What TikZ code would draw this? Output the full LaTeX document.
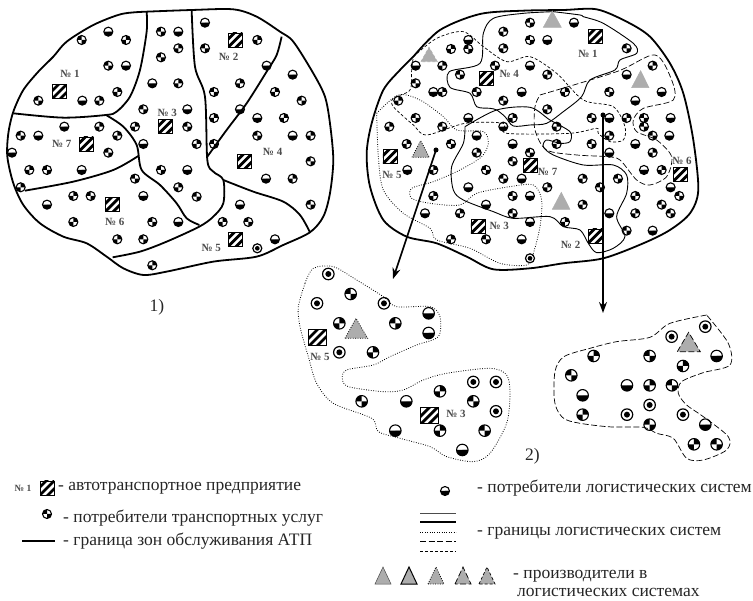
\documentclass[tikz,border=0pt]{standalone}
\usepackage{fontspec}
\usetikzlibrary{arrows.meta}
\setmainfont{Liberation Serif}
\tikzset{
  cons/.style={circle, draw, line width=1.1pt, minimum size=9pt, inner sep=0pt, path picture={
    \fill (path picture bounding box.center) -- ++(#1:8pt) arc[start angle=#1, delta angle={(#1==180?180:90)}, radius=8pt] -- cycle;
    \fill (path picture bounding box.center) -- ++(#1+180:8pt) arc[start angle=#1+180, delta angle={(#1==180?0:90)}, radius=8pt] -- cycle;}},
  consbig/.style={cons=#1, minimum size=11.5pt},
  consdot/.style={circle, draw, line width=1.2pt, minimum size=#1, inner sep=0pt, path picture={
    \fill (path picture bounding box.center) circle[radius=0.26*#1];}},
  atpbox/.style={rectangle, draw, line width=0.7pt, inner sep=0pt, minimum width=14pt, minimum height=14pt, path picture={
    \foreach \a/\b in {-18/2,-10/10,-2/18}
      \draw[line width=2.8pt] (path picture bounding box.center) +(\a pt,-10pt) -- +(\b pt,10pt);}},
  numlabel/.style={font=\bfseries\fontsize{11}{13}\selectfont, text=black!70, inner sep=0pt},
  legend/.style={anchor=west, font=\fontsize{17.5}{20}\selectfont, text=black!85, inner sep=0pt},
  zoneline/.style={line width=1.8pt, line join=round},
  solidline/.style={line width=0.9pt, line join=round},
  dotline/.style={line width=0.8pt, dash pattern=on 0.8pt off 1.6pt},
  longdash/.style={line width=0.7pt, dash pattern=on 6pt off 2.5pt},
  shortdash/.style={line width=0.7pt, dash pattern=on 3pt off 2pt},
  prod/.style={fill=black!32, draw=black!32, line width=0.5pt},
  flowarrow/.style={-{Stealth[length=11pt, width=8pt]}, line width=1.7pt},
}
\begin{document}
\begin{tikzpicture}[x=1pt, y=-1pt]
  \useasboundingbox (0,0) rectangle (753,601);

  \begin{scope}[x=0.3333pt, y=-0.3333pt]
    \draw[zoneline] plot[smooth] coordinates {(440,35) (575,30) (700,28) (770,50) (840,95) (880,125) (940,220) (975,290) (990,370) (1000,480) (990,580) (970,650) (930,697) (850,735) (770,770) (640,785) (500,815) (430,825) (370,805) (320,770) (260,730) (190,710) (120,670) (70,615) (40,550) (22,470) (25,400) (40,335) (70,270) (115,215) (160,170) (200,125) (280,75) (365,42) (440,35)};
    \draw[zoneline] plot[smooth] coordinates {(440,35) (440,95) (420,210) (390,290) (350,335) (318,345) (190,353) (40,340)};
    \draw[zoneline] plot[smooth] coordinates {(575,30) (585,200) (615,290) (622,480) (640,515) (670,540) (670,610) (640,650) (598,680) (500,725) (420,755) (338,772)};
    \draw[zoneline] plot[smooth] coordinates {(845,110) (830,165) (800,215) (740,310) (680,390) (622,470)};
    \draw[zoneline] plot[smooth] coordinates {(670,540) (760,575) (850,605) (900,645) (930,697)};
    \draw[zoneline] plot[smooth] coordinates {(318,345) (370,380) (410,435) (425,510) (480,555) (530,610) (560,655) (598,675)};
    \draw[zoneline] plot[smooth] coordinates {(415,468) (340,510) (220,545) (75,572)};

    \foreach \x/\y [count=\i, evaluate=\i as \ang using {mod(\i*90,270)}] in {245/120, 325/95, 378/120, 325/197, 378/197, 352/276, 115/302, 247/302, 298/302,
      483/95, 535/95, 535/145, 483/172, 457/250, 535/250, 430/328, 562/328, 405/380, 562/380, 430/432, 590/432, 483/510, 562/510, 535/562, 590/590,
      615/68, 772/120, 615/145, 800/197, 720/250, 642/276, 720/328, 642/354, 642/432,
      878/224, 825/276, 905/302, 772/354, 852/354, 772/407, 878/407, 932/407, 932/484, 798/536, 878/536, 932/614,
      720/614, 668/666, 745/666, 825/718, 457/796,
      405/536, 430/588, 220/588, 272/588, 141/614, 220/666, 457/666, 535/666, 352/718, 430/718,
      193/380, 298/380, 62/407, 115/407, 352/407, 325/458, 36/458, 88/510, 141/510, 245/510, 62/562}
      \node (a\i) at (\x,\y) [cons=\ang] {};
    \node (aring) at (772,745) [consdot=9pt] {};

    \node (atp1) at (178,275) [atpbox] {};
    \node (atp2) at (706,120) [atpbox] {};
    \node (atp3) at (497,380) [atpbox] {};
    \node (atp4) at (733,484) [atpbox] {};
    \node (atp5) at (706,718) [atpbox] {};
    \node (atp6) at (337,614) [atpbox] {};
    \node (atp7) at (259,432) [atpbox] {};
    \node (lab1) at (210,222) [numlabel] {№ 1};
    \node (lab2) at (686,171) [numlabel] {№ 2};
    \node (lab3) at (502,340) [numlabel] {№ 3};
    \node (lab4) at (818,457) [numlabel] {№ 4};
    \node (lab5) at (634,745) [numlabel] {№ 5};
    \node (lab6) at (344,667) [numlabel] {№ 6};
    \node (lab7) at (185,432) [numlabel] {№ 7};
  \end{scope}

  \begin{scope}[xshift=350pt, x=0.3333pt, y=-0.3333pt]
    \draw[solidline] plot[smooth] coordinates {(610,35) (690,45) (700,50) (760,70) (850,130) (860,160) (810,180) (795,210) (720,240) (695,290) (640,335) (590,370) (540,375) (490,378) (465,350) (440,330) (420,325) (380,320) (360,280) (300,262) (298,215) (390,190) (400,100) (430,55) (520,40) (610,35)};
    \draw[solidline] plot[smooth] coordinates {(345,380) (440,330) (540,322) (600,360) (660,395) (660,425) (630,430) (590,420) (580,440) (610,465) (700,495) (790,495) (830,525) (830,580) (800,650) (825,710) (790,745) (740,758) (715,730) (690,690) (640,680) (600,650) (490,655) (430,635) (340,600) (310,570) (305,500) (340,430) (345,380)};
    \draw[shortdash] plot[smooth] coordinates {(190,170) (260,115) (340,95) (400,140) (470,185) (540,170) (620,220) (700,300) (790,320) (825,380) (820,420) (780,425) (745,400) (740,385) (660,400) (470,400) (460,370) (345,370) (230,405) (190,375) (130,320) (130,295) (180,270) (185,210) (190,170)};
    \draw[longdash] plot[smooth] coordinates {(570,285) (800,215) (915,165) (965,240) (970,300) (880,325) (850,360) (860,395) (920,420) (965,470) (950,530) (900,555) (860,540) (810,480) (770,470) (680,465) (590,450) (555,390) (555,320) (570,285)};
    \draw[dotline] plot[smooth] coordinates {(80,340) (145,285) (210,300) (280,350) (320,390) (400,395) (415,430) (395,470) (330,510) (250,545) (185,565) (185,595) (240,610) (330,615) (380,580) (480,560) (550,555) (575,600) (570,680) (550,760) (530,795) (450,790) (360,745) (260,720) (240,685) (160,640) (100,570) (85,470) (80,340)};
    \draw[zoneline] plot[smooth] coordinates {(190,170) (270,90) (390,42) (520,32) (640,30) (740,28) (830,65) (900,110) (960,190) (1000,280) (1030,420) (1045,570) (1020,640) (960,690) (880,730) (760,775) (640,790) (540,805) (430,808) (350,770) (260,730) (170,710) (100,660) (60,560) (50,460) (65,370) (100,270) (150,210) (190,170)};

    \foreach \x/\y [count=\i, evaluate=\i as \ang using {mod(\i*90,270)}] in {540/68, 672/68, 460/95, 540/120, 592/120, 460/145, 830/145, 355/120, 303/147, 355/147, 197/197, 277/197, 435/197, 540/197, 592/224, 330/224, 830/224, 908/197, 197/250, 250/276, 277/276, 380/276, 515/276, 645/276, 778/276, 935/276, 145/302, 460/302, 856/302, 592/328, 197/354, 355/354, 488/354, 725/354, 778/354, 830/354, 882/354, 962/354, 118/380, 277/380, 460/380, 620/380, 882/380, 380/407, 778/407, 908/407, 958/407, 170/432, 303/432, 488/432, 620/432, 725/432, 856/432, 380/458, 540/458, 778/458, 908/458, 488/484, 172/510, 250/510, 408/510, 882/510, 935/510, 460/536, 515/536, 698/536, 804/536, 355/562, 592/562, 750/562, 962/562, 250/588, 488/588, 540/588, 856/588, 988/588, 408/614, 698/614, 935/614, 225/640, 330/640, 488/640, 778/640, 856/640, 962/640, 540/666, 645/666, 830/692, 908/692, 303/718, 408/718, 515/718}
      \node (b\i) at (\x,\y) [cons=\ang] {};
    \node (bring) at (540,775) [consdot=9pt] {};

    \draw[prod] (580,82) -- (607,33) -- (634,82) -- cycle;
    \draw[prod] (845,263) -- (872,212) -- (897,263) -- cycle;
    \draw[prod] (607,628) -- (634,577) -- (660,628) -- cycle;
    \draw[prod, shortdash] (213,185) -- (237,142) -- (262,185) -- cycle;
    \draw[prod, draw=black, dotline] (186,472) -- (212,422) -- (238,472) -- cycle;

    \node (lsa1) at (736,110) [atpbox] {};
    \node (lsa4) at (410,236) [atpbox] {};
    \node (lsa5) at (120,470) [atpbox] {};
    \node (lsa7) at (541,496) [atpbox] {};
    \node (lsa3) at (384,679) [atpbox] {};
    \node (lsa2) at (736,708) [atpbox] {};
    \node (lsa6) at (991,523) [atpbox] {};
    \node (lsl1) at (714,161) [numlabel] {№ 1};
    \node (lsl4) at (478,222) [numlabel] {№ 4};
    \node (lsl5) at (126,525) [numlabel] {№ 5};
    \node (lsl7) at (593,516) [numlabel] {№ 7};
    \node (lsl3) at (448,678) [numlabel] {№ 3};
    \node (lsl2) at (662,735) [numlabel] {№ 2};
    \node (lsl6) at (996,484) [numlabel] {№ 6};
  \end{scope}

  \begin{scope}[xshift=290pt, yshift=-250pt, x=0.3333pt, y=-0.3333pt]
    \draw[dotline] plot[smooth] coordinates {(45,100) (70,55) (130,50) (200,90) (280,140) (320,170) (420,170) (450,200) (445,260) (380,285) (300,320) (250,345) (170,360) (157,385) (175,410) (280,425) (340,420) (400,390) (470,370) (600,355) (650,375) (660,430) (650,520) (600,610) (550,635) (470,620) (420,590) (330,565) (265,545) (245,505) (130,460) (80,400) (55,320) (30,230) (25,170) (45,100)};
    \draw[longdash] plot[smooth] coordinates {(1250,195) (1140,220) (1080,262) (980,275) (900,295) (822,320) (795,365) (795,460) (830,510) (950,530) (1060,532) (1100,550) (1150,565) (1190,625) (1240,630) (1310,600) (1315,560) (1240,500) (1190,465) (1165,430) (1175,395) (1240,368) (1320,345) (1315,280) (1250,195)};

    \foreach \x/\y [count=\i, evaluate=\i as \ang using {mod(\i*90,270)}] in {182/132, 416/190, 148/220, 316/220, 416/249, 249/307, 215/454, 349/454, 450/424, 550/454, 316/542, 450/542, 584/542, 517/600,
      911/318, 1079/318, 1280/318, 1179/348, 844/376, 1011/406, 1079/406, 1146/406, 878/436, 878/494, 1079/524, 1246/524, 1212/583, 1280/583}
      \node (d\i) at (\x,\y) [consbig=\ang] {};
    \foreach \x/\y [count=\i] in {115/72, 81/160, 282/160, 148/307, 550/396, 618/396, 618/484, 1145/260, 1246/230, 1079/465, 1011/494, 1179/494}
      \node (r\i) at (\x,\y) [consdot=11.5pt] {};

    \draw[prod, draw=black, dotline] (165,265) -- (198,205) -- (233,265) -- cycle;
    \draw[prod, draw=black, longdash] (1162,305) -- (1196,247) -- (1231,305) -- cycle;
    \node (dsa5) at (82,263) [atpbox, minimum width=18pt, minimum height=16pt] {};
    \node (dsa3) at (418,497) [atpbox, minimum width=18pt, minimum height=16pt] {};
    \node (dsl5) at (90,320) [numlabel] {№ 5};
    \node (dsl3) at (498,493) [numlabel] {№ 3};
    \node (part2) at (727,620) [font=\fontsize{17.5}{20}\selectfont, text=black!85, inner sep=0pt] {2)};
  \end{scope}

  \node (part1) at (157,307) [font=\fontsize{17.5}{20}\selectfont, text=black!85, inner sep=0pt] {1)};

  \node (startfive) at (436,150) [circle, fill, inner sep=0pt, minimum size=5pt] {};
  \node (startsix) at (603,115) [circle, fill, inner sep=0pt, minimum size=5pt] {};
  \coordinate (endfive) at (393,279);
  \coordinate (endsix) at (603,313);
  \draw[flowarrow] (startfive.center) -- (endfive);
  \draw[flowarrow] (startsix.center) -- (endsix);

  \node (keynum) at (23,488) [numlabel, font=\bfseries\fontsize{9.5}{11}\selectfont] {№ 1};
  \node (keyatp) at (47,488) [atpbox] {};
  \node (keyatptext) at (58,488) [legend] {- автотранспортное предприятие};
  \node (keycons) at (47,514) [cons=90] {};
  \node (keyconstext) at (63,518) [legend] {- потребители транспортных услуг};
  \coordinate (keyzonea) at (22,541);
  \coordinate (keyzoneb) at (55,541);
  \draw[zoneline] (keyzonea) -- (keyzoneb);
  \node (keyzonetext) at (63,541) [legend] {- граница зон обслуживания АТП};

  \node (keylog) at (445,491) [cons=180] {};
  \node (keylogtext) at (477,488) [legend] {- потребители логистических систем};
  \coordinate (kla) at (420,513);
  \coordinate (klb) at (456,513);
  \coordinate (kca) at (420,522);
  \coordinate (kcb) at (456,522);
  \coordinate (kda) at (420,532);
  \coordinate (kdb) at (456,532);
  \coordinate (kea) at (420,542);
  \coordinate (keb) at (456,542);
  \coordinate (kfa) at (420,552);
  \coordinate (kfb) at (456,552);
  \draw[solidline, draw=black!70] (kla) -- (klb);
  \draw[solidline, line width=1.2pt] (kca) -- (kcb);
  \draw[dotline] (kda) -- (kdb);
  \draw[longdash, line width=1pt] (kea) -- (keb);
  \draw[shortdash, line width=1pt] (kfa) -- (kfb);
  \node (keybordertext) at (477,533) [legend] {- границы логистических систем};

  \draw[prod, draw=black!70] (375,584) -- (383,567) -- (391,584) -- cycle;
  \draw[prod, draw=black, line width=1pt] (401,584) -- (409,567) -- (417,584) -- cycle;
  \draw[prod, draw=black, dotline] (428,584) -- (436,567) -- (444,584) -- cycle;
  \draw[prod, draw=black, longdash] (455,584) -- (463,567) -- (471,584) -- cycle;
  \draw[prod, draw=black, shortdash] (479,584) -- (487,567) -- (495,584) -- cycle;
  \node (keyprodtext) at (513,576) [legend] {- производители в};
  \node (keyprodtexttwo) at (517,592) [legend] {логистических системах};
\end{tikzpicture}
\end{document}
